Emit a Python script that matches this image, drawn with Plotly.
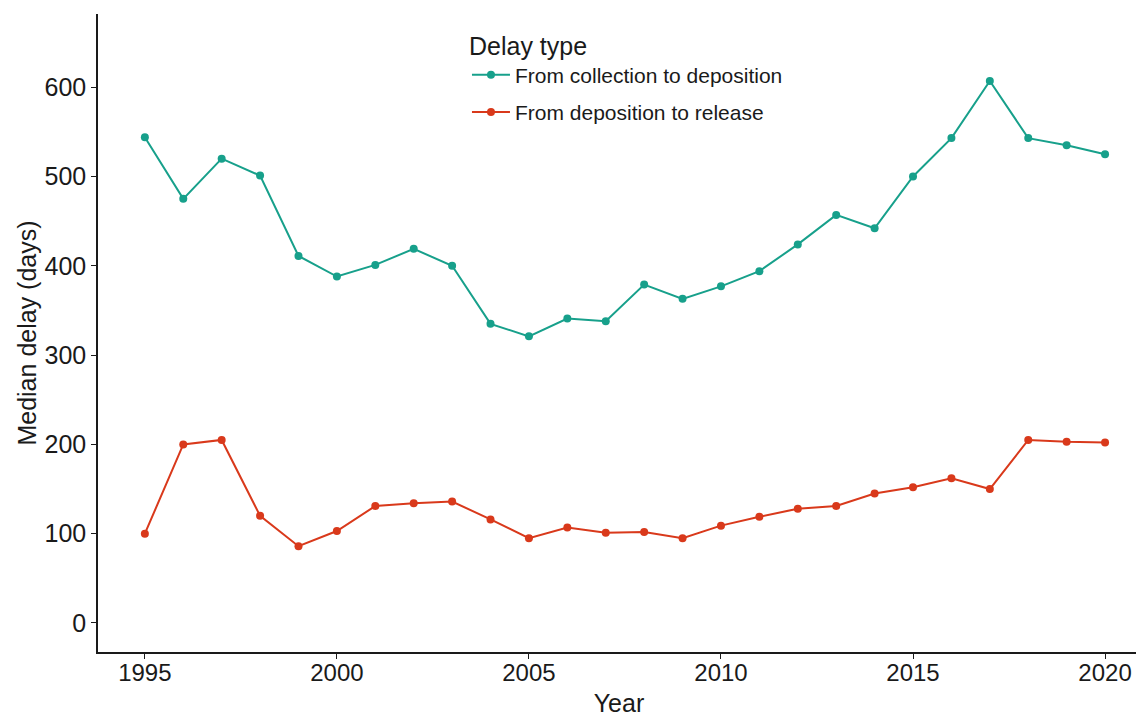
import plotly.graph_objects as go

years = list(range(1995, 2021))
collection_to_deposition = [544, 475, 520, 501, 411, 388, 401, 419, 400, 335, 321, 341, 338,
                            379, 363, 377, 394, 424, 457, 442, 500, 543, 607, 543, 535, 525]
deposition_to_release = [100, 200, 205, 120, 86, 103, 131, 134, 136, 116, 95, 107, 101,
                         102, 95, 109, 119, 128, 131, 145, 152, 162, 150, 205, 203, 202]
series_names = ["From collection to deposition", "From deposition to release"]
colors = ["#17a08b", "#d9391b"]

fig = go.Figure()
for i, (name, vals, c) in enumerate(zip(series_names, [collection_to_deposition, deposition_to_release], colors)):
    fig.add_trace(go.Scatter(x=years, y=vals, mode="lines+markers", name=name,
                             legendgroup=f"g{i}",
                             line=dict(color=c, width=2), marker=dict(color=c, size=8)))

font_family = "Liberation Sans, Arial, sans-serif"
ink = "#1a1a1a"
fig.update_layout(
    width=1144, height=715,
    margin=dict(l=90, r=12, t=6, b=71),
    paper_bgcolor="white", plot_bgcolor="white",
    font=dict(family=font_family, color=ink),
    showlegend=True,
    legend=dict(
        title=dict(text="Delay type", font=dict(size=25, color=ink)),
        font=dict(size=21, color=ink),
        x=0.3541, y=0.9873, xanchor="left", yanchor="top",
        bgcolor="rgba(0,0,0,0)", itemwidth=38, tracegroupgap=7,
    ),
    xaxis=dict(
        range=[1993.78, 2020.91], tickvals=[1995, 2000, 2005, 2010, 2015, 2020],
        showgrid=False, zeroline=False, showline=True, linecolor=ink, linewidth=1.5,
        ticks="outside", ticklen=5, tickwidth=1.2, tickcolor=ink,
        tickfont=dict(size=24, color=ink), automargin=False, ticklabelstandoff=-7,
        title=dict(text="Year", font=dict(size=25, color=ink), standoff=10),
    ),
    yaxis=dict(
        range=[-32.5, 682], tickvals=[0, 100, 200, 300, 400, 500, 600],
        showgrid=False, zeroline=False, showline=True, linecolor=ink, linewidth=1.5,
        ticks="outside", ticklen=5, tickwidth=1.2, tickcolor=ink,
        tickfont=dict(size=25, color=ink), automargin=False,
        title=dict(text="Median delay (days)", font=dict(size=25, color=ink), standoff=1),
    ),
)
fig.write_html("out.html")
